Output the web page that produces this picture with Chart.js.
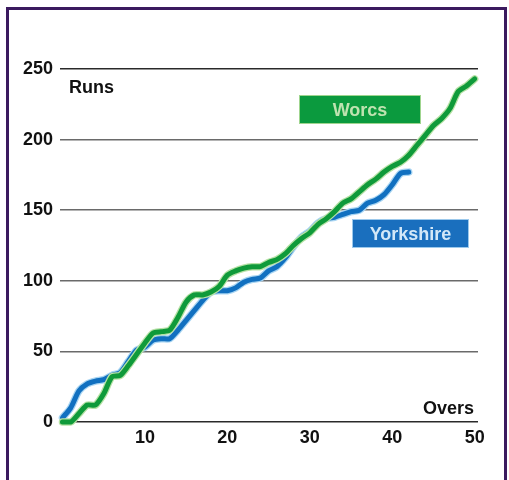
<!DOCTYPE html>
<html>
<head>
<meta charset="utf-8">
<script src="https://cdn.jsdelivr.net/npm/chart.js@4/dist/chart.umd.min.js"></script>
<style>
  html, body { margin: 0; padding: 0; background: #fff; }
  #wrap { width: 509px; height: 480px; }
</style>
</head>
<body>
<div id="wrap"><canvas id="myChart" width="509" height="480"></canvas></div>
<script>
// overs bowled (x) and cumulative runs per side
const overs = [0,1,2,3,4,5,6,7,8,9,10,11,12,13,14,15,16,17,18,19,20,21,22,23,24,25,
               26,27,28,29,30,31,32,33,34,35,36,37,38,39,40,41,42,43,44,45,46,47,48,49,50];
const worcs = [0,0,6,12,12,20,32,33,40,48,56,63,64,65,74,85,90,90,92,96,104,107,109,110,110,113,
               115,119,125,130,134,140,144,149,155,158,163,168,172,177,181,184,189,196,203,210,215,222,234,238,243];
const yorkshire = [3,10,22,27,29,30,33,35,43,51,53,58,59,59,65,72,79,86,92,93,93,95,99,101,102,107,
                   110,116,124,131,135,141,144,145,147,149,150,155,157,161,168,176,177];
const xTicks = [10, 20, 30, 40, 50];
const yTicks = [0, 50, 100, 150, 200, 250];

const FONT = '"Liberation Sans", Arial, sans-serif';

function points(vals) {
    return vals.map((v, i) => ({ x: overs[i], y: v }));
}

function lineSet(label, vals, color, width) {
    return {
        label: label,
        data: points(vals),
        borderColor: color,
        borderWidth: width,
        pointRadius: 0,
        tension: 0.25,
        borderJoinStyle: 'round',
        borderCapStyle: 'round',
        clip: false
    };
}

// frame, axis titles and the two team boxes
const decorations = {
    id: 'decorations',
    afterDraw(chart) {
        const c = chart.ctx;
        const area = chart.chartArea;
        c.save();

        c.fillStyle = '#111';
        c.font = 'bold 18px ' + FONT;
        c.textBaseline = 'alphabetic';
        c.textAlign = 'left';
        c.fillText('Runs', area.left + 9, area.top + 24);
        c.textAlign = 'right';
        c.fillText('Overs', area.right - 4, area.bottom - 8);

        function box(text, x, y, w, h, fill, edge, ink) {
            c.fillStyle = fill;
            c.fillRect(x, y, w, h);
            c.strokeStyle = edge;
            c.lineWidth = 1;
            c.strokeRect(x + 0.5, y + 0.5, w - 1, h - 1);
            c.fillStyle = ink;
            c.textAlign = 'center';
            c.textBaseline = 'alphabetic';
            c.font = 'bold 18px ' + FONT;
            c.fillText(text, x + w / 2, y + h / 2 + 6.5);
        }
        box('Worcs', 299, 95, 122, 29, '#0b9a3e', '#9fd58f', '#bfe3b0');
        box('Yorkshire', 352, 219, 117, 29, '#1a6fbe', '#9cc9ec', '#d3e8f8');

        // purple frame
        c.strokeStyle = '#3b1a5f';
        c.lineWidth = 3;
        c.strokeRect(7.5, 8.5, 498, 480);
        c.restore();
    }
};

const ctx = document.getElementById('myChart').getContext('2d');

const myChart = new Chart(ctx, {
    type: 'line',
    data: {
        datasets: [
            lineSet('Worcs', worcs, '#0f9a3a', 5),
            lineSet('Worcs halo', worcs, '#b7e2a6', 7.5),
            lineSet('Yorkshire', yorkshire, '#1170c0', 5),
            lineSet('Yorkshire halo', yorkshire, '#a9d5f2', 7.5)
        ]
    },
    options: {
        responsive: false,
        animation: false,
        events: [],
        layout: { padding: { top: 69, right: 31, left: 0, bottom: 0 } },
        plugins: { legend: { display: false }, tooltip: { enabled: false } },
        scales: {
            x: {
                type: 'linear',
                min: -0.3,
                max: 50.4,
                afterBuildTicks: (scale) => { scale.ticks = xTicks.map(v => ({ value: v })); },
                afterFit: (scale) => { scale.height = 58; },
                grid: { display: false },
                border: { display: false },
                ticks: {
                    color: '#111',
                    font: { family: FONT, size: 18, weight: 'bold' },
                    padding: -3,
                    maxRotation: 0
                }
            },
            y: {
                min: 0,
                max: 250,
                afterBuildTicks: (scale) => { scale.ticks = yTicks.map(v => ({ value: v })); },
                afterFit: (scale) => { scale.width = 60; },
                border: { display: false },
                grid: {
                    drawTicks: false,
                    lineWidth: 1.6,
                    color: (c) => (c.tick && (c.tick.value === 0 || c.tick.value === 250)) ? '#2a2a2a' : '#6a6a6a'
                },
                ticks: {
                    color: '#111',
                    font: { family: FONT, size: 18, weight: 'bold' },
                    padding: 7
                }
            }
        }
    },
    plugins: [decorations]
});
</script>
</body>
</html>
